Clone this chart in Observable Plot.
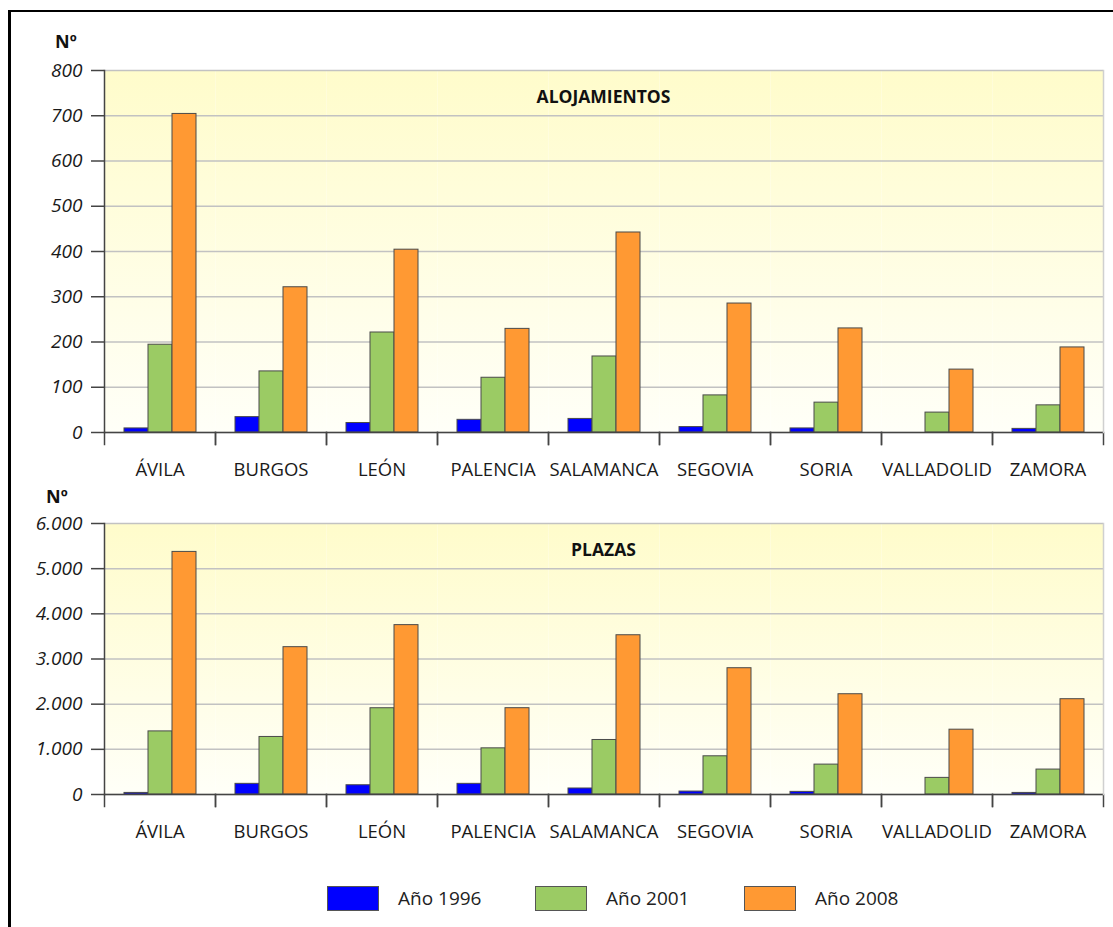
<!DOCTYPE html>
<html><head><meta charset="utf-8">
<script src="https://cdn.jsdelivr.net/npm/d3@7"></script>
<script src="https://cdn.jsdelivr.net/npm/@observablehq/plot@0.6"></script>
<style>
body{margin:0;background:#fff;font-family:"Open Sans",sans-serif;}
#wrap{position:relative;width:1113px;height:927px;overflow:hidden;}
#border{position:absolute;left:8px;top:10px;width:1300px;height:1100px;border-left:3px solid #000;border-top:2.5px solid #000;}
.title{position:absolute;left:104px;width:999px;text-align:center;font-weight:bold;font-size:17.5px;line-height:17.5px;color:#111;}
.num{position:absolute;font-weight:bold;font-size:18px;line-height:18px;color:#111;}
#p1{position:absolute;left:0;top:0;}
#p2{position:absolute;left:0;top:480px;}
.leg{position:absolute;top:885px;display:flex;align-items:center;}
.sw{width:52px;height:25px;border:1px solid #555;box-sizing:border-box;}
.lt{font-size:19px;color:#222;margin-left:19px;line-height:26px;}
svg g[aria-label="y-axis tick label"]{font-size:19px !important;font-style:italic;fill:#1a1a1a;}
svg g[aria-label="fx-axis tick label"]{font-size:18.5px !important;fill:#1a1a1a;}
</style></head><body>
<div id="wrap">
  <div id="border"></div>
  <div id="p1"></div>
  <div id="p2"></div>
  <div class="num" style="left:55px;top:32px;">Nº</div>
  <div class="num" style="left:46px;top:487px;">Nº</div>
  <div class="title" style="top:87.5px;">ALOJAMIENTOS</div>
  <div class="title" style="top:540.5px;">PLAZAS</div>
  <div id="legend"></div>
</div>
<script>
const provincias = ["ÁVILA","BURGOS","LEÓN","PALENCIA","SALAMANCA","SEGOVIA","SORIA","VALLADOLID","ZAMORA"];
const anios = ["Año 1996","Año 2001","Año 2008"];
const colores = ["#0000FF","#9BCB64","#FF9933"];
const alojamientos1996 = [9,34,21,28,30,12,9,0,8];
const alojamientos2001 = [194,135,221,121,168,82,66,44,60];
const alojamientos2008 = [704,321,404,229,442,285,230,139,188];
const plazas1996 = [35,236,205,236,133,65,58,0,35];
const plazas2001 = [1397,1274,1910,1022,1207,846,662,368,552];
const plazas2008 = [5371,3262,3750,1911,3526,2796,2220,1435,2110];
const ticksAlojamientos = [0,100,200,300,400,500,600,700,800];
const ticksPlazas = [0,1000,2000,3000,4000,5000,6000];

const es = d3.formatLocale({decimal: ",", thousands: ".", grouping: [3], currency: ["", " €"]});
const fmt = es.format(",");

function tabla(a, b, c) {
  return provincias.flatMap((p, i) => [
    {provincia: p, anio: anios[0], valor: a[i]},
    {provincia: p, anio: anios[1], valor: b[i]},
    {provincia: p, anio: anios[2], valor: c[i]}
  ]);
}

function panel(data, ticks, height, marginTop, gid) {
  const marginBottom = 58;
  const plotH = height - marginTop - marginBottom;
  const defs = () => {
    const d = d3.create("svg:defs");
    const g = d.append("linearGradient").attr("id", gid).attr("x1", 0).attr("y1", 0).attr("x2", 0).attr("y2", 1);
    g.append("stop").attr("offset", "0%").attr("stop-color", "#FFFCCB");
    g.append("stop").attr("offset", "100%").attr("stop-color", "#FFFFF8");
    return d.node();
  };
  return Plot.plot({
    width: 1113, height, marginTop, marginBottom, marginLeft: 104, marginRight: 10,
    style: {fontFamily: "'Open Sans', sans-serif", color: "#222", background: "transparent", overflow: "visible"},
    fx: {domain: provincias, padding: 0, label: null},
    x: {domain: anios, paddingInner: 0, paddingOuter: 0.74, axis: null},
    y: {domain: [0, d3.max(ticks)], label: null},
    color: {domain: anios, range: colores},
    marks: [
      defs,
      Plot.frame({fill: `url(#${gid})`, stroke: null}),
      Plot.gridY(ticks, {stroke: "#c2c2c2", strokeOpacity: 1, strokeWidth: 1.5}),
      Plot.barY(data, {fx: "provincia", x: "anio", y: "valor", fill: "anio", stroke: "#4a4a4a", strokeWidth: 1, inset: 0}),
      Plot.ruleY([0], {stroke: "#444", strokeWidth: 1.5}),
      Plot.frame({anchor: "left", stroke: "#444", strokeWidth: 1.5, insetTop: plotH, insetBottom: -12}),
      Plot.frame({anchor: "right", stroke: "#444", strokeWidth: 1.5, insetTop: plotH, insetBottom: -12}),
      Plot.frame({anchor: "left", stroke: "#444", strokeWidth: 1.5, fx: [provincias[0]]}),
      Plot.frame({anchor: "right", stroke: "#d0d0d0", strokeWidth: 1.5, fx: [provincias[provincias.length - 1]]}),
      Plot.axisY(ticks, {tickSize: 13, tickPadding: 9, fontSize: 19, fontStyle: "italic", tickFormat: fmt, label: null, stroke: "#444", strokeWidth: 1.5}),
      Plot.axisFx({anchor: "bottom", tickSize: 0, tickPadding: 30, fontSize: 18.5, label: null})
    ]
  });
}

document.getElementById("p1").append(panel(tabla(alojamientos1996, alojamientos2001, alojamientos2008), ticksAlojamientos, 490, 70, "g1"));
document.getElementById("p2").append(panel(tabla(plazas1996, plazas2001, plazas2008), ticksPlazas, 372, 43, "g2"));

const legendLeft = [327, 535, 744];
const leg = document.getElementById("legend");
anios.forEach((a, i) => {
  const it = document.createElement("div");
  it.className = "leg";
  it.style.left = legendLeft[i] + "px";
  const sw = document.createElement("div");
  sw.className = "sw";
  sw.style.background = colores[i];
  const t = document.createElement("div");
  t.className = "lt";
  t.textContent = a;
  it.append(sw, t);
  leg.append(it);
});
</script>
</body></html>
